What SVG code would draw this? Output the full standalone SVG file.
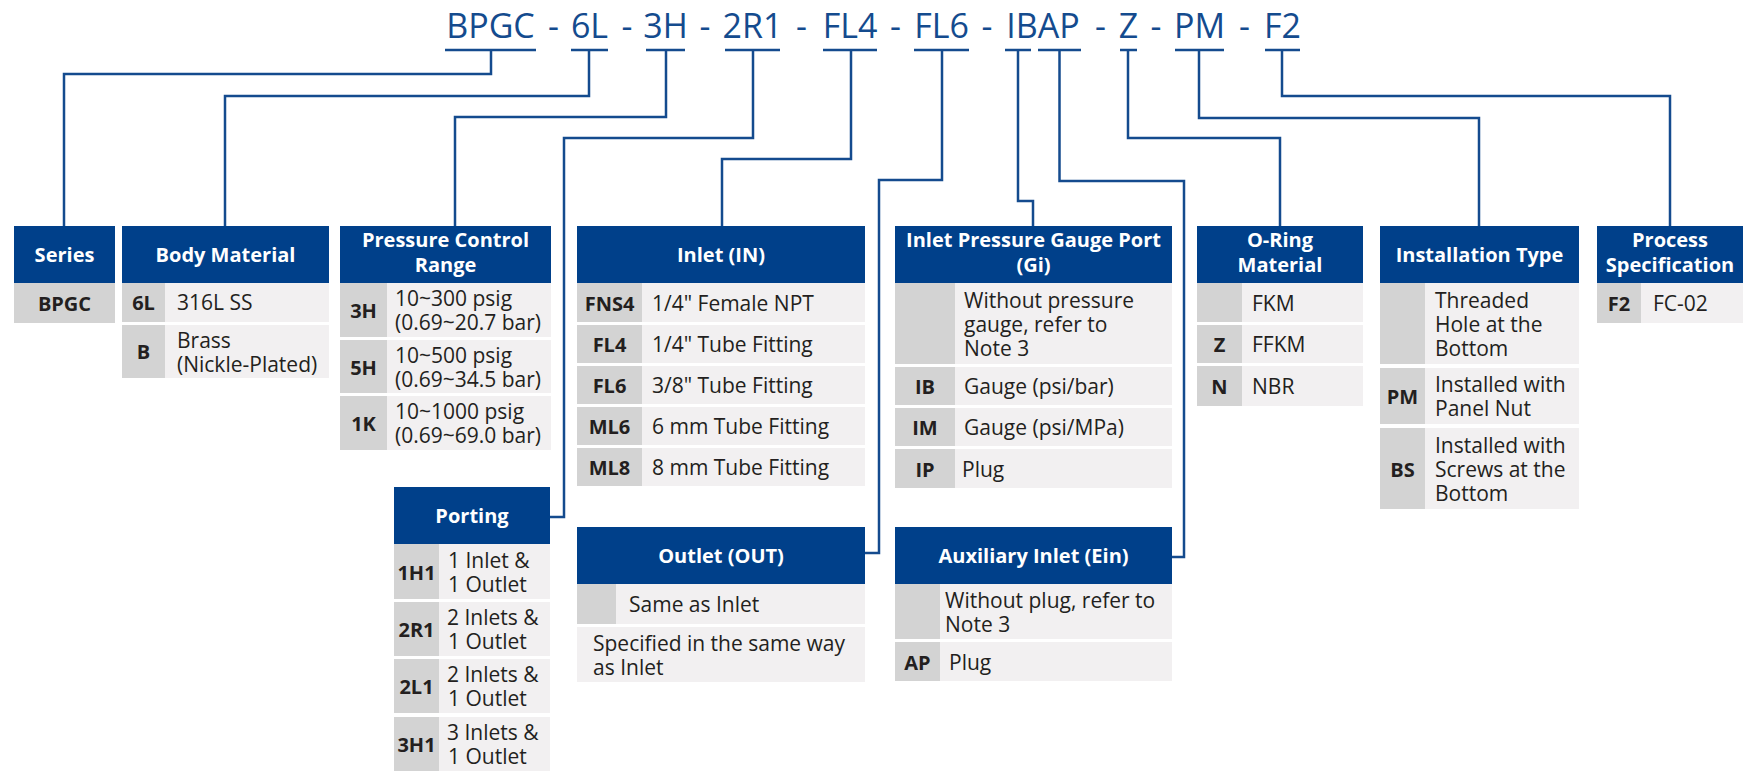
<svg xmlns="http://www.w3.org/2000/svg" width="1743" height="771" viewBox="0 0 1743 771">
<style>
.hdr{fill:#00408a}
.code{fill:#d3d3d3}
.cell{fill:#f2f0f1}
.ht{font-family:'Open Sans','Noto Sans',sans-serif;font-weight:700;font-size:20px;fill:#ffffff;text-anchor:middle}
.ct{font-family:'Open Sans','Noto Sans',sans-serif;font-weight:700;font-size:20px;fill:#231f20;text-anchor:middle}
.bt{font-family:'Open Sans','Noto Sans',sans-serif;font-size:21px;fill:#231f20}
.title{font-family:'Open Sans','Noto Sans',sans-serif;font-size:34px;fill:#144b8e;text-anchor:middle}
.conn{fill:none;stroke:#144b8e;stroke-width:2.5}
</style>
<rect width="1743" height="771" fill="#ffffff"/>
<g id="title">
<text class="title" y="38"><tspan x="490.5">BPGC</tspan><tspan x="553.5">-</tspan><tspan x="589.5">6L</tspan><tspan x="627">-</tspan><tspan x="665.5">3H</tspan><tspan x="705">-</tspan><tspan x="752.5">2R1</tspan><tspan x="801.5">-</tspan><tspan x="850">FL4</tspan><tspan x="895.5">-</tspan><tspan x="941.5">FL6</tspan><tspan x="987">-</tspan><tspan x="1043">IBAP</tspan><tspan x="1100.5">-</tspan><tspan x="1128.5">Z</tspan><tspan x="1156">-</tspan><tspan x="1199.5">PM</tspan><tspan x="1244.5">-</tspan><tspan x="1282.5">F2</tspan></text>
</g>
<g id="connectors" class="conn">
<path d="M445 50H536M571 50H608M646 50H685M725 50H780M823 50H877M914 50H969M1005 50H1031M1038 50H1081M1120 50H1137M1175 50H1224M1265 50H1300"/>
<polyline points="491,50 491,74 64,74 64,226"/>
<polyline points="589,50 589,96 225,96 225,226"/>
<polyline points="666,50 666,117 455,117 455,226"/>
<polyline points="753,50 753,138 564,138 564,517 550,517"/>
<polyline points="851,50 851,159 722,159 722,226"/>
<polyline points="942,50 942,180 879,180 879,553 865,553"/>
<polyline points="1018,50 1018,201 1033,201 1033,226"/>
<polyline points="1059.5,50 1059.5,181 1184,181 1184,557 1172,557"/>
<polyline points="1128,50 1128,138 1280,138 1280,226"/>
<polyline points="1199,50 1199,118 1479,118 1479,226"/>
<polyline points="1282,50 1282,96 1670,96 1670,226"/>
</g>
<g id="series">
<rect class="hdr" x="14" y="226" width="101" height="57"/>
<text class="ht" x="64.5" y="262">Series</text>
<rect class="code" x="14" y="283" width="101" height="40"/>
<text class="ct" x="64.5" y="310.5">BPGC</text>
</g>
<g id="body-material">
<rect class="hdr" x="122" y="226" width="207" height="57"/>
<text class="ht" x="225.5" y="262">Body Material</text>
<rect class="code" x="122" y="283" width="43" height="39"/>
<rect class="cell" x="165" y="283" width="164" height="39"/>
<text class="ct" x="143.5" y="310">6L</text>
<text class="bt" x="177" y="310">316L SS</text>
<rect class="code" x="122" y="325" width="43" height="53"/>
<rect class="cell" x="165" y="325" width="164" height="53"/>
<text class="ct" x="143.5" y="359">B</text>
<text class="bt" x="177" y="347.5">Brass<tspan x="177" dy="24">(Nickle-Plated)</tspan></text>
</g>
<g id="pressure-control-range">
<rect class="hdr" x="340" y="226" width="211" height="57"/>
<text class="ht" x="445.5" y="247">Pressure Control<tspan x="445.5" dy="25">Range</tspan></text>
<rect class="code" x="340" y="283" width="47" height="54"/>
<rect class="cell" x="387" y="283" width="164" height="54"/>
<text class="ct" x="363.5" y="318">3H</text>
<text class="bt" x="395" y="306">10~300 psig<tspan x="395" dy="24">(0.69~20.7 bar)</tspan></text>
<rect class="code" x="340" y="340" width="47" height="53"/>
<rect class="cell" x="387" y="340" width="164" height="53"/>
<text class="ct" x="363.5" y="374.5">5H</text>
<text class="bt" x="395" y="362.5">10~500 psig<tspan x="395" dy="24">(0.69~34.5 bar)</tspan></text>
<rect class="code" x="340" y="396" width="47" height="54"/>
<rect class="cell" x="387" y="396" width="164" height="54"/>
<text class="ct" x="363.5" y="431">1K</text>
<text class="bt" x="395" y="419">10~1000 psig<tspan x="395" dy="24">(0.69~69.0 bar)</tspan></text>
</g>
<g id="inlet">
<rect class="hdr" x="577" y="226" width="288" height="57"/>
<text class="ht" x="721" y="262">Inlet (IN)</text>
<rect class="code" x="577" y="283" width="65" height="39"/>
<rect class="cell" x="642" y="283" width="223" height="39"/>
<text class="ct" x="609.5" y="310.5">FNS4</text>
<text class="bt" x="652" y="310.5">1/4" Female NPT</text>
<rect class="code" x="577" y="325" width="65" height="38"/>
<rect class="cell" x="642" y="325" width="223" height="38"/>
<text class="ct" x="609.5" y="352">FL4</text>
<text class="bt" x="652" y="352">1/4" Tube Fitting</text>
<rect class="code" x="577" y="366" width="65" height="38"/>
<rect class="cell" x="642" y="366" width="223" height="38"/>
<text class="ct" x="609.5" y="393">FL6</text>
<text class="bt" x="652" y="393">3/8" Tube Fitting</text>
<rect class="code" x="577" y="407" width="65" height="38"/>
<rect class="cell" x="642" y="407" width="223" height="38"/>
<text class="ct" x="609.5" y="434">ML6</text>
<text class="bt" x="652" y="434">6 mm Tube Fitting</text>
<rect class="code" x="577" y="448" width="65" height="38"/>
<rect class="cell" x="642" y="448" width="223" height="38"/>
<text class="ct" x="609.5" y="475">ML8</text>
<text class="bt" x="652" y="475">8 mm Tube Fitting</text>
</g>
<g id="inlet-pressure-gauge-port">
<rect class="hdr" x="895" y="226" width="277" height="57"/>
<text class="ht" x="1033.5" y="247">Inlet Pressure Gauge Port<tspan x="1033.5" dy="25">(Gi)</tspan></text>
<rect class="code" x="895" y="283" width="60" height="81"/>
<rect class="cell" x="955" y="283" width="217" height="81"/>
<text class="bt" x="964" y="307.5">Without pressure<tspan x="964" dy="24">gauge, refer to</tspan><tspan x="964" dy="24">Note 3</tspan></text>
<rect class="code" x="895" y="367" width="60" height="38"/>
<rect class="cell" x="955" y="367" width="217" height="38"/>
<text class="ct" x="925" y="394">IB</text>
<text class="bt" x="964" y="394">Gauge (psi/bar)</text>
<rect class="code" x="895" y="408" width="60" height="38"/>
<rect class="cell" x="955" y="408" width="217" height="38"/>
<text class="ct" x="925" y="435">IM</text>
<text class="bt" x="964" y="435">Gauge (psi/MPa)</text>
<rect class="code" x="895" y="449" width="60" height="39"/>
<rect class="cell" x="955" y="449" width="217" height="39"/>
<text class="ct" x="925" y="476.5">IP</text>
<text class="bt" x="962" y="476.5">Plug</text>
</g>
<g id="o-ring-material">
<rect class="hdr" x="1197" y="226" width="166" height="57"/>
<text class="ht" x="1280" y="247">O-Ring<tspan x="1280" dy="25">Material</tspan></text>
<rect class="code" x="1197" y="283" width="45" height="39"/>
<rect class="cell" x="1242" y="283" width="121" height="39"/>
<text class="bt" x="1252" y="310.5">FKM</text>
<rect class="code" x="1197" y="325" width="45" height="38"/>
<rect class="cell" x="1242" y="325" width="121" height="38"/>
<text class="ct" x="1219.5" y="352">Z</text>
<text class="bt" x="1252" y="352">FFKM</text>
<rect class="code" x="1197" y="366" width="45" height="40"/>
<rect class="cell" x="1242" y="366" width="121" height="40"/>
<text class="ct" x="1219.5" y="394">N</text>
<text class="bt" x="1252" y="394">NBR</text>
</g>
<g id="installation-type">
<rect class="hdr" x="1380" y="226" width="199" height="57"/>
<text class="ht" x="1479.5" y="262">Installation Type</text>
<rect class="code" x="1380" y="283" width="45" height="81"/>
<rect class="cell" x="1425" y="283" width="154" height="81"/>
<text class="bt" x="1435" y="307.5">Threaded<tspan x="1435" dy="24">Hole at the</tspan><tspan x="1435" dy="24">Bottom</tspan></text>
<rect class="code" x="1380" y="368" width="45" height="56"/>
<rect class="cell" x="1425" y="368" width="154" height="56"/>
<text class="ct" x="1402.5" y="404">PM</text>
<text class="bt" x="1435" y="392">Installed with<tspan x="1435" dy="24">Panel Nut</tspan></text>
<rect class="code" x="1380" y="428" width="45" height="81"/>
<rect class="cell" x="1425" y="428" width="154" height="81"/>
<text class="ct" x="1402.5" y="476.5">BS</text>
<text class="bt" x="1435" y="452.5">Installed with<tspan x="1435" dy="24">Screws at the</tspan><tspan x="1435" dy="24">Bottom</tspan></text>
</g>
<g id="process-specification">
<rect class="hdr" x="1597" y="226" width="146" height="57"/>
<text class="ht" x="1670" y="247">Process<tspan x="1670" dy="25">Specification</tspan></text>
<rect class="code" x="1597" y="283" width="44" height="40"/>
<rect class="cell" x="1641" y="283" width="102" height="40"/>
<text class="ct" x="1619" y="311">F2</text>
<text class="bt" x="1653" y="311">FC-02</text>
</g>
<g id="porting">
<rect class="hdr" x="394" y="487" width="156" height="57"/>
<text class="ht" x="472" y="523">Porting</text>
<rect class="code" x="394" y="544" width="45" height="55"/>
<rect class="cell" x="439" y="544" width="111" height="55"/>
<text class="ct" x="416.5" y="579.5">1H1</text>
<text class="bt" x="448" y="567.5">1 Inlet &amp;<tspan x="448" dy="24">1 Outlet</tspan></text>
<rect class="code" x="394" y="602" width="45" height="54"/>
<rect class="cell" x="439" y="602" width="111" height="54"/>
<text class="ct" x="416.5" y="637">2R1</text>
<text class="bt" x="447" y="625">2 Inlets &amp;<tspan x="448" dy="24">1 Outlet</tspan></text>
<rect class="code" x="394" y="659" width="45" height="54"/>
<rect class="cell" x="439" y="659" width="111" height="54"/>
<text class="ct" x="416.5" y="694">2L1</text>
<text class="bt" x="447" y="682">2 Inlets &amp;<tspan x="448" dy="24">1 Outlet</tspan></text>
<rect class="code" x="394" y="717" width="45" height="54"/>
<rect class="cell" x="439" y="717" width="111" height="54"/>
<text class="ct" x="416.5" y="752">3H1</text>
<text class="bt" x="447" y="740">3 Inlets &amp;<tspan x="448" dy="24">1 Outlet</tspan></text>
</g>
<g id="outlet">
<rect class="hdr" x="577" y="527" width="288" height="57"/>
<text class="ht" x="721" y="563">Outlet (OUT)</text>
<rect class="code" x="577" y="584" width="39" height="40"/>
<rect class="cell" x="616" y="584" width="249" height="40"/>
<text class="bt" x="629" y="612">Same as Inlet</text>
<rect class="cell" x="577" y="627" width="288" height="55"/>
<text class="bt" x="593" y="650.5">Specified in the same way<tspan x="593" dy="24">as Inlet</tspan></text>
</g>
<g id="auxiliary-inlet">
<rect class="hdr" x="895" y="527" width="277" height="57"/>
<text class="ht" x="1033.5" y="563">Auxiliary Inlet (Ein)</text>
<rect class="code" x="895" y="584" width="45" height="55"/>
<rect class="cell" x="940" y="584" width="232" height="55"/>
<text class="bt" x="945" y="607.5">Without plug, refer to<tspan x="945" dy="24">Note 3</tspan></text>
<rect class="code" x="895" y="642" width="45" height="39"/>
<rect class="cell" x="940" y="642" width="232" height="39"/>
<text class="ct" x="917.5" y="669.5">AP</text>
<text class="bt" x="949" y="669.5">Plug</text>
</g>
</svg>
